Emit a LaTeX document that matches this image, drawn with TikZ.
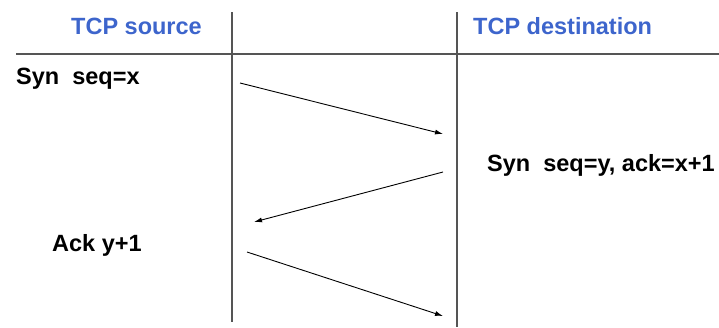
\documentclass[tikz,border=0pt]{standalone}
\usepackage{fontspec}
\setmainfont{Liberation Sans}
\usetikzlibrary{arrows.meta}
\definecolor{headblue}{RGB}{61,101,204}
\definecolor{rulegray}{RGB}{85,85,85}
\begin{document}
\begin{tikzpicture}[
	x=1pt, y=-1pt,
	msgtext/.style={
		anchor=base west,
		inner sep=0pt,
		font=\fontsize{23.5}{28}\selectfont\bfseries
	},
	headtext/.style={
		msgtext,
		text=headblue
	},
	RuleLine/.style={% grid lines of the table
		rulegray,
		line width=1.3pt,
	},
	MsgArrow/.style={% messages between the two hosts
		-{Latex[length=8pt,width=5pt]},
		line width=0.9pt,
	},
]
	\useasboundingbox (0,0) rectangle (719,327);

	\node [headtext] (src) at (71,34) {TCP source};
	\node [headtext] (dst) at (473,34) {TCP destination};

	\node [msgtext] (syn) at (16,84) {Syn~~seq=x};
	\node [msgtext] (synack) at (487,171) {Syn~~seq=y, ack=x+1};
	\node [msgtext] (ack) at (52,251) {Ack y+1};

	% table lines
	\coordinate (l1top) at (232,12);
	\coordinate (l1bot) at (232,322);
	\coordinate (l2top) at (457,12);
	\coordinate (l2bot) at (457,327);
	\coordinate (hleft) at (16,54);
	\coordinate (hright) at (719,54);

	\draw [RuleLine] (l1top) -- (l1bot);
	\draw [RuleLine] (l2top) -- (l2bot);
	\draw [RuleLine] (hleft) -- (hright);

	% message ends
	\coordinate (m1a) at (240,83);
	\coordinate (m1b) at (443,134);
	\coordinate (m2a) at (443,172);
	\coordinate (m2b) at (254,222);
	\coordinate (m3a) at (247,252);
	\coordinate (m3b) at (443,316);

	\draw [MsgArrow] (m1a) -- (m1b);
	\draw [MsgArrow] (m2a) -- (m2b);
	\draw [MsgArrow] (m3a) -- (m3b);
\end{tikzpicture}
\end{document}
